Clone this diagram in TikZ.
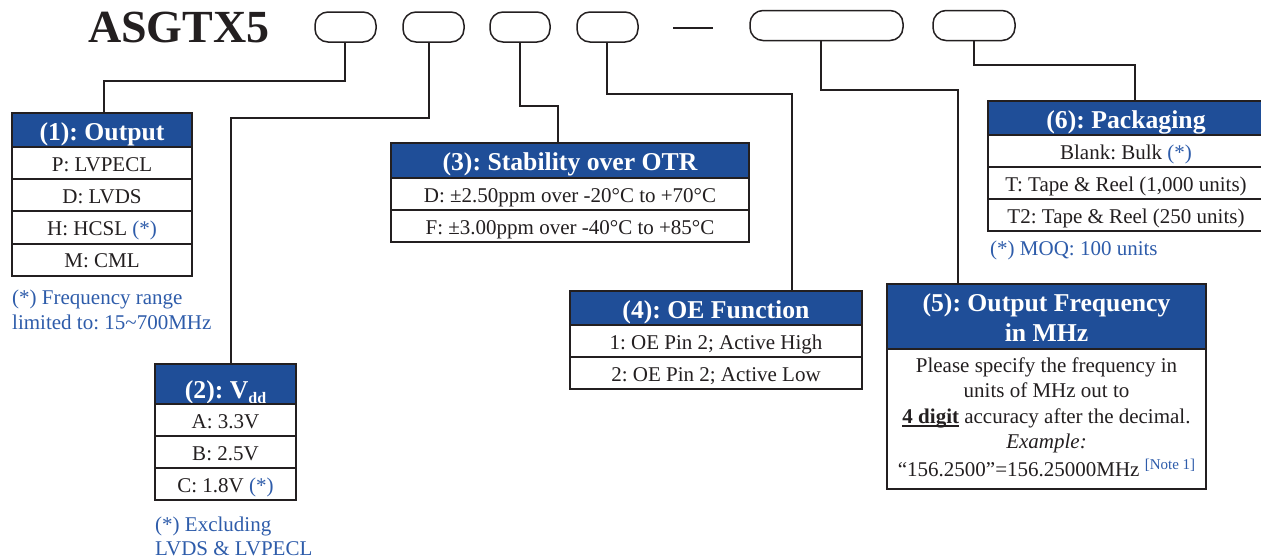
\documentclass[tikz,border=0pt]{standalone}
\usepackage{fontspec}
\setmainfont{Liberation Serif}
\definecolor{hdrblue}{RGB}{31,78,152}
\definecolor{noteblue}{RGB}{46,92,170}
\definecolor{ink}{RGB}{35,31,32}
\newcommand\fs[1]{\fontsize{#1}{#1}\selectfont}
\newcommand\bstar{\textcolor{noteblue}{(*)}}
\newcommand\ulbold[1]{\setbox0\hbox{\bfseries #1}\rlap{\rule[-3.5pt]{\wd0}{1.8pt}}\box0\relax}
\frenchspacing
\begin{document}
\begin{tikzpicture}[x=1pt,y=-1pt,
  cell/.style={draw=ink, line width=2pt, fill=white, inner sep=0pt, text=ink,
    font=\fs{21}, text height=20pt, text depth=4pt},
  hdr/.style={cell, fill=hdrblue, text=white, font=\fs{25.7}\bfseries,
    text height=24pt, text depth=4pt},
  pill/.style={draw=ink, line width=1.5pt, rounded corners=13pt,
    minimum height=30pt, inner sep=0pt},
  wire/.style={draw=ink, line width=2pt},
  txt/.style={inner sep=0pt, anchor=base west, font=\fs{21}, text=noteblue},
  lin/.style={inner sep=0pt, anchor=base, font=\fs{21}, text=ink},
  hlin/.style={inner sep=0pt, anchor=base, font=\fs{25.7}\bfseries, text=white},
]
\useasboundingbox (0,0) rectangle (1261,558);
\clip (0,0) rectangle (1261,558);

% title and code pills
\node[inner sep=0pt, anchor=base west, font=\fs{46}\bfseries, text=ink] (title) at (88,42) {ASGTX5};
\node[pill, minimum width=61pt] (A) at (345.5,27) {};
\node[pill, minimum width=61pt] (B) at (433.5,27) {};
\node[pill, minimum width=60pt] (C) at (520,27) {};
\node[pill, minimum width=61pt] (D) at (607.5,27) {};
\draw[draw=ink, line width=1.5pt] (673,28) -- (713,28);
\node[pill, minimum width=153pt] (E) at (826.5,25.5) {};
\node[pill, minimum width=82pt] (F) at (974,25.5) {};

% (1) Output
\node[hdr, minimum width=180pt, minimum height=34pt] (h1) at (102,130) {(1): Output};
\node[cell, minimum width=180pt, minimum height=32.25pt] (r11) at (102,163.1) {P: LVPECL};
\node[cell, minimum width=180pt, minimum height=32.25pt] (r12) at (102,195.4) {D: LVDS};
\node[cell, minimum width=180pt, minimum height=32.25pt] (r13) at (102,227.6) {H: HCSL \bstar};
\node[cell, minimum width=180pt, minimum height=32.25pt] (r14) at (102,259.9) {M: CML};
\node[txt] (n1a) at (12,304) {(*) Frequency range};
\node[txt] (n1b) at (12,329) {limited to: 15\textasciitilde700MHz};

% (2) Vdd
\node[hdr, minimum width=141pt, minimum height=40pt, text height=33pt, text depth=5pt] (h2) at (225.5,384)
  {(2): V\raisebox{-5pt}{\fs{16}dd}};
\node[cell, minimum width=141pt, minimum height=32pt] (r21) at (225.5,420) {A: 3.3V};
\node[cell, minimum width=141pt, minimum height=32pt] (r22) at (225.5,452) {B: 2.5V};
\node[cell, minimum width=141pt, minimum height=32pt] (r23) at (225.5,484) {C: 1.8V \bstar};
\node[txt] (n2a) at (155,531) {(*) Excluding};
\node[txt] (n2b) at (155,555) {LVDS \& LVPECL};

% (3) Stability
\node[hdr, minimum width=358pt, minimum height=35pt] (h3) at (570,160.5) {(3): Stability over OTR};
\node[cell, minimum width=358pt, minimum height=32pt] (r31) at (570,194) {D: ±2.50ppm over -20°C to +70°C};
\node[cell, minimum width=358pt, minimum height=32pt] (r32) at (570,226) {F: ±3.00ppm over -40°C to +85°C};

% (4) OE Function
\node[hdr, minimum width=292pt, minimum height=34pt] (h4) at (716,308) {(4): OE Function};
\node[cell, minimum width=292pt, minimum height=32pt] (r41) at (716,341) {1: OE Pin 2; Active High};
\node[cell, minimum width=292pt, minimum height=32pt] (r42) at (716,373) {2: OE Pin 2; Active Low};

% (5) Output Frequency
\node[hdr, minimum width=319pt, minimum height=65pt] (h5) at (1046.5,316.5) {};
\node[cell, minimum width=319pt, minimum height=140pt] (r51) at (1046.5,419) {};
\node[hlin] (h5a) at (1046.5,311) {(5): Output Frequency};
\node[hlin] (h5b) at (1046.5,341.5) {in MHz};
\node[lin] (l51) at (1046.5,372) {Please specify the frequency in};
\node[lin] (l52) at (1046.5,397.5) {units of MHz out to};
\node[lin] (l53) at (1046.5,423) {\ulbold{4 digit} accuracy after the decimal.};
\node[lin] (l54) at (1046.5,448.5) {\itshape Example:};
\node[lin] (l55) at (1046.5,476) {“156.2500”=156.25000MHz \raisebox{7pt}{\fs{15}\textcolor{noteblue}{[Note 1]}}};

% (6) Packaging
\node[hdr, minimum width=276pt, minimum height=34pt] (h6) at (1126,118) {(6): Packaging};
\node[cell, minimum width=276pt, minimum height=32pt] (r61) at (1126,151) {Blank: Bulk \bstar};
\node[cell, minimum width=276pt, minimum height=32pt] (r62) at (1126,183) {T: Tape \& Reel (1,000 units)};
\node[cell, minimum width=276pt, minimum height=32pt] (r63) at (1126,215) {T2: Tape \& Reel (250 units)};
\node[txt] (n6) at (990,255.5) {(*) MOQ: 100 units};

% connectors
\draw[wire] (A.south -| 345,0) |- (104,81) -- (h1.north -| 104,0);
\draw[wire] (B.south -| 429,0) |- (231,118) -- (h2.north -| 231,0);
\draw[wire] (C.south -| 520,0) |- (558,106) -- (h3.north -| 558,0);
\draw[wire] (D.south -| 607,0) |- (792,94) -- (h4.north -| 792,0);
\draw[wire] (E.south -| 821,0) |- (958,90) -- (h5.north -| 958,0);
\draw[wire] (F.south -| 974,0) |- (1135,65) -- (h6.north -| 1135,0);
\end{tikzpicture}
\end{document}
